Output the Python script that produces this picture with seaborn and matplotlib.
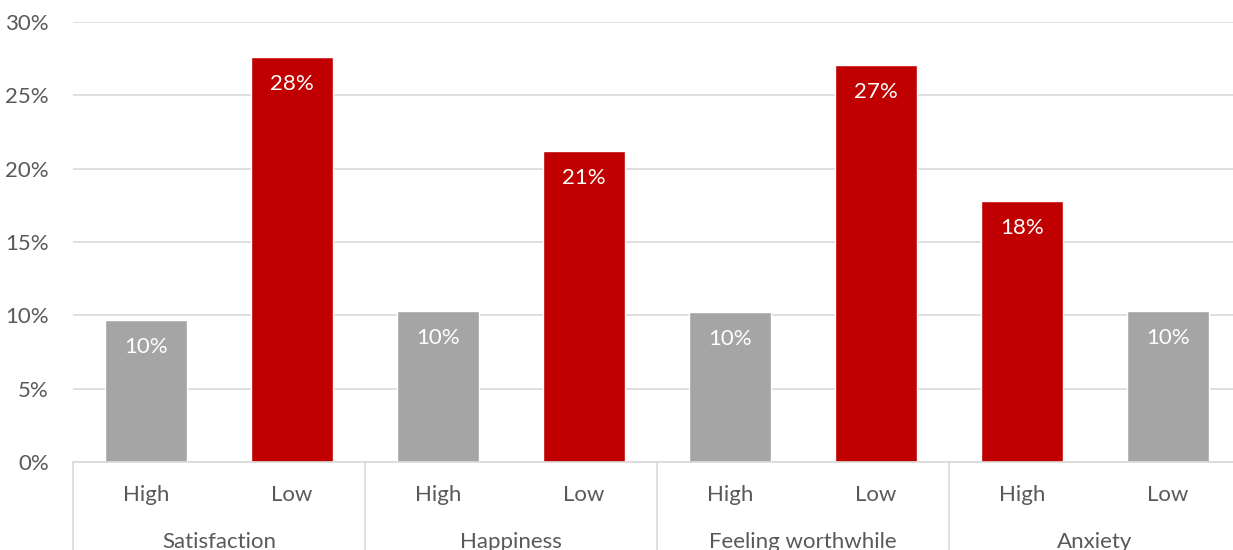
import matplotlib
matplotlib.use("Agg")
import matplotlib.pyplot as plt
import seaborn as sns
import pandas as pd

# Wellbeing measures, each split into High / Low respondents
groups = ["Satisfaction", "Happiness", "Feeling worthwhile", "Anxiety"]
levels = ["High", "Low"]
values = [9.7, 27.6, 10.3, 21.2, 10.2, 27.1, 17.8, 10.3]
labels = ["10%", "28%", "10%", "21%", "10%", "27%", "18%", "10%"]
bar_colors = ["#A5A5A5", "#C00000", "#A5A5A5", "#C00000",
              "#A5A5A5", "#C00000", "#C00000", "#A5A5A5"]
y_ticks = [0, 5, 10, 15, 20, 25, 30]

sns.set_theme(style="white")
plt.rcParams["font.family"] = ["Lato", "DejaVu Sans"]
text_color = "#595959"
grid_color = "#D9D9D9"
fs = 16

keys = [f"{g}|{l}" for g in groups for l in levels]
df = pd.DataFrame({"key": keys, "value": values})

fig = plt.figure(figsize=(12.33, 5.5), dpi=100)
ax = fig.add_axes([73 / 1233, 88 / 550, 1168 / 1233, 440 / 550])

sns.barplot(data=df, x="key", y="value", hue="key", order=keys,
            palette=bar_colors, width=0.562, legend=False, ax=ax,
            saturation=1)

ax.set_ylim(0, 30)
ax.set_xlim(-0.5, len(keys) - 0.5)
ax.set_yticks(y_ticks)
ax.set_yticklabels([f"{t}%" for t in y_ticks], color=text_color, fontsize=fs)
ax.tick_params(axis="y", length=0, pad=17.5)
ax.set_xticks([])
ax.set_xlabel("")
ax.set_ylabel("")
for s in ["top", "right", "left"]:
    ax.spines[s].set_visible(False)
ax.spines["bottom"].set_color(grid_color)
ax.spines["bottom"].set_linewidth(1.2)
ax.yaxis.grid(True, color=grid_color, linewidth=1.2)
ax.set_axisbelow(True)

# Value labels inside the top of each bar
for patch, lab in zip(ax.patches, labels):
    x = patch.get_x() + patch.get_width() / 2
    ax.annotate(lab, (x, patch.get_height()), xytext=(0, -19.5),
                textcoords="offset points", ha="center", va="center",
                color="white", fontsize=fs)

# Two-level category axis: level labels, group labels, separators
trans = ax.get_xaxis_transform()
for i, k in enumerate(keys):
    ax.text(i, -33 / 440, k.split("|")[1], transform=trans,
            ha="center", va="center", color=text_color, fontsize=fs)
for gi, g in enumerate(groups):
    ax.text(gi * 2 + 0.5, -80 / 440, g, transform=trans,
            ha="center", va="center", color=text_color, fontsize=fs)
for b in range(len(groups) + 1):
    ax.plot([b * 2 - 0.5, b * 2 - 0.5], [0, -0.25], transform=trans,
            color=grid_color, linewidth=1.2, clip_on=False)

fig.savefig("out.png", dpi=100)
